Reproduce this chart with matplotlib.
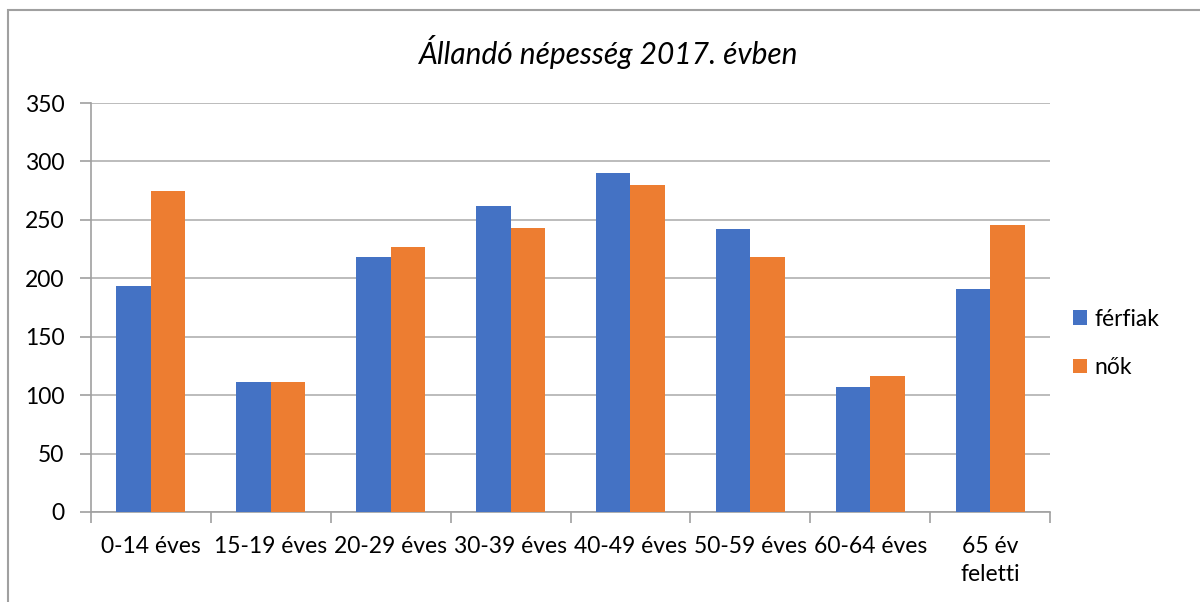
import matplotlib
matplotlib.use("Agg")
import matplotlib.pyplot as plt
import numpy as np
from matplotlib.patches import Rectangle

categories = ["0-14 éves", "15-19 éves", "20-29 éves", "30-39 éves",
              "40-49 éves", "50-59 éves", "60-64 éves", "65 év\nfeletti"]
ferfiak = [193, 111, 218, 262, 290, 242, 107, 191]
nok = [275, 111, 227, 243, 280, 218, 116, 246]
series_names = ["férfiak", "nők"]
title = "Állandó népesség 2017. évben"
yticks = [0, 50, 100, 150, 200, 250, 300, 350]

plt.rcParams['font.family'] = ['Lato', 'DejaVu Sans']
FS = 16.5

fig = plt.figure(figsize=(12, 6.02), dpi=100)
ax = fig.add_axes([91/1200, 1 - 512/602, (1050-91)/1200, (512-103)/602])

x = np.arange(len(categories))
w = 0.2875
blue = "#4472C4"
orange = "#ED7D31"
ax.bar(x - w/2, ferfiak, width=w, color=blue, label=series_names[0], zorder=3)
ax.bar(x + w/2, nok, width=w, color=orange, label=series_names[1], zorder=3)

ax.set_xlim(-0.5, len(categories) - 0.5)
ax.set_ylim(0, 350)
ax.set_yticks(yticks)
ax.set_yticklabels([str(v) for v in yticks], fontsize=FS, color="#000000")
ax.yaxis.grid(True, color="#b0b0b0", linewidth=1.2, zorder=0)
ax.set_axisbelow(True)

ax.set_xticks(x)
ax.set_xticklabels(categories, fontsize=FS, color="#000000", linespacing=1.45)
ax.set_xticks(np.arange(-0.5, len(categories)), minor=True)
ax.tick_params(axis='x', which='major', length=0, pad=17)
ax.tick_params(axis='x', which='minor', length=8, color="#a0a0a0", width=1.2)
ax.tick_params(axis='y', length=8, color="#a0a0a0", width=1.2, pad=11)

for s in ["top", "right"]:
    ax.spines[s].set_visible(False)
ax.spines["left"].set_color("#a0a0a0")
ax.spines["left"].set_linewidth(1.2)
ax.spines["bottom"].set_color("#a0a0a0")
ax.spines["bottom"].set_linewidth(1.2)

fig.text(609/1200, 1 - 52/602, title, ha="center", va="center",
         fontsize=21.5, style="italic", color="#000000")

leg = ax.legend(loc="center left", bbox_to_anchor=(1.0, 0.412), frameon=False,
                fontsize=FS, handlelength=0.6, handleheight=0.6,
                handletextpad=0.35, labelspacing=1.2, borderaxespad=0.6)

fig.patches.append(Rectangle((8/1200, -0.1), 1.2, (602-10)/602 + 0.1,
                             transform=fig.transFigure, fill=False,
                             edgecolor="#a0a0a0", linewidth=1.5))

fig.savefig("out.png", dpi=100, facecolor="white")
